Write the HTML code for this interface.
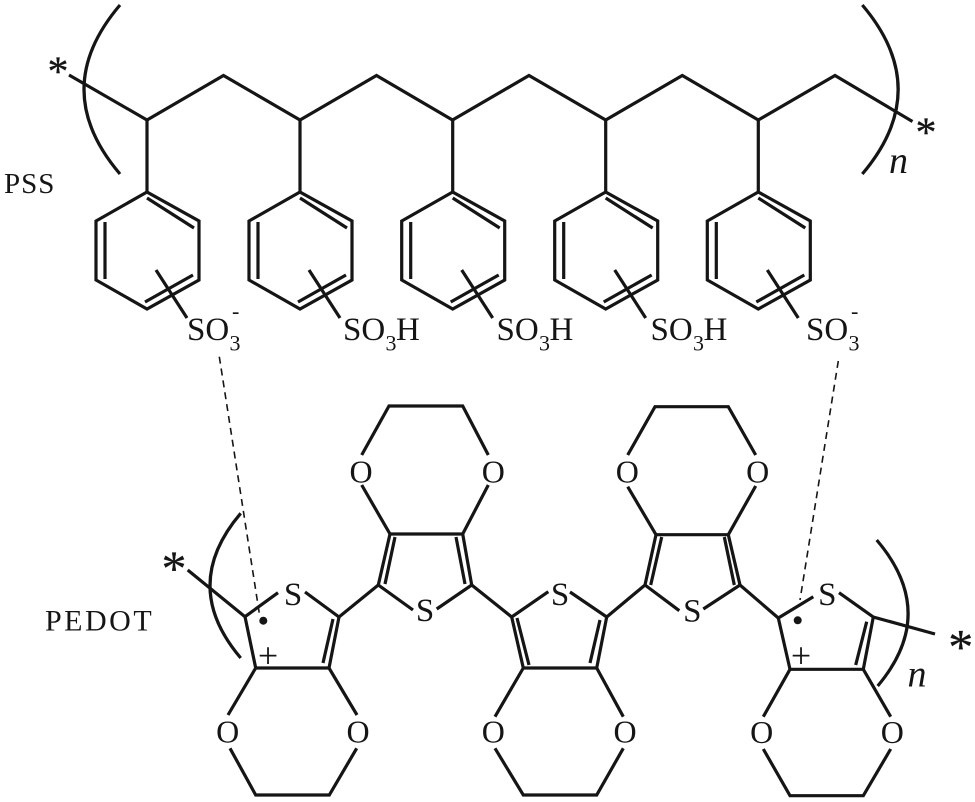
<!DOCTYPE html>
<html><head><meta charset="utf-8"><style>
html,body{margin:0;padding:0;background:#fff}
svg{display:block}
text{font-family:"Liberation Serif",serif;fill:#151515}
.l{fill:none;stroke:#151515;stroke-width:3.2;stroke-linejoin:miter;stroke-linecap:butt}
.m{font-size:32px;text-anchor:middle}
.s{font-size:33px;text-anchor:middle}
.so{font-size:33px}
.sub{font-size:22px}
.mn{font-size:22px}
.n{font-size:38px;font-style:italic;text-anchor:middle}
.st{font-size:42px;text-anchor:middle;stroke:#151515;stroke-width:.3}
.p{font-size:36px;text-anchor:middle}
</style></head><body>
<svg width="975" height="802" viewBox="0 0 975 802" xmlns="http://www.w3.org/2000/svg">
<defs>
<g id="r" class="l">
<path d="M147 120V192L199 221V280L147 309L96 280V221L147 192"/>
<path d="M147 198L194 228M105 222V279M145 302L193 275M156 270L187 318"/>
</g>
</defs>
<g class="l">
<path d="M69 75L147 120L223.500 75.500L300 120L376.500 75.500L452.500 120L529 75.500L605.700 120L682.300 75.500L758.300 120L835 75.500L912.500 121.500"/>
<path d="M120 5Q48 89.500 120 174"/>
<path d="M862.300 5Q934 89.500 862.300 174"/>
<path d="M240.700 513.300Q179.300 585.500 240.700 658"/>
<path d="M876.700 540Q939 613 877.700 686"/>
</g>
<use href="#r"/>
<use href="#r" x="153"/>
<use href="#r" x="305.700"/>
<use href="#r" x="458.700"/>
<use href="#r" x="611.300"/>
<g class="l">
<path d="M187.700 570L245 616.700L278 592.700M305 592L339 617L378.300 585L413 610M436.700 609L471.700 585L511.700 617L548.300 591.700M570 592L606.700 617L645 585L679.300 610.700M703.300 609L740 585L778.300 618L813.300 596.700M839 592.700L873.300 617L935 634"/>
<path d="M245 616.700L255.700 668H329L339 617M333 619L323 663"/>
<path d="M228 715L255.700 668M230 748.300L255.700 795H329.300L356.700 748.300M357 715L329 668"/>
<path d="M378.300 585L390 534H462.700L471.700 585M385 584L395 537M465 584L456 537"/>
<path d="M361.700 485L390 534M361.700 455L389 406H462.700L488.300 455M488.300 485L462.700 534"/>
<path d="M511.700 617L523.300 668H596.700L606.700 617M517 618L529 665M600 620L590 663"/>
<path d="M495 716.700L523.300 668M495 748.300L523.300 795H596.700L623.300 748.300M623.300 716.700L596.700 668"/>
<path d="M645 585L656 534.700H728.300L740 585M650.700 585L661.700 537M734.300 585L724.300 537"/>
<path d="M627.700 486.700L656 534.700M627.700 455L655 406.700H728.300L755.700 455M755.700 486L728.300 534.700"/>
<path d="M778.300 618L790 669.300H863.300L873.300 617M866.700 621.700L855.700 665"/>
<path d="M763.300 716.700L790 669.300M763.300 749L790 795.700H863.300L890.700 749M890.700 716.700L863.300 669.300"/>
</g>
<path d="M219.300 356.700L259.300 613.300M838.300 361L800 600" fill="none" stroke="#151515" stroke-width="1.600" stroke-dasharray="7 5"/>
<circle cx="263.300" cy="620.700" r="4" fill="#151515"/>
<circle cx="797.700" cy="620.300" r="4" fill="#151515"/>

<text x="4" y="193" font-size="29" letter-spacing="1">PSS</text>
<text x="45" y="630.500" font-size="30" letter-spacing="2.500">PEDOT</text>

<text class="so" x="187" y="340">SO</text><text class="sub" x="229.500" y="350.500">3</text><text class="mn" x="232" y="318.500">-</text>
<text class="so" x="343" y="340">SO</text><text class="sub" x="385.500" y="350.500">3</text><text class="so" x="396" y="340">H</text>
<text class="so" x="496.500" y="340">SO</text><text class="sub" x="539" y="350.500">3</text><text class="so" x="549.500" y="340">H</text>
<text class="so" x="650.500" y="340">SO</text><text class="sub" x="693" y="350.500">3</text><text class="so" x="703.500" y="340">H</text>
<text class="so" x="806" y="340">SO</text><text class="sub" x="848.500" y="350.500">3</text><text class="mn" x="851" y="318.500">-</text>

<text class="s" x="293" y="605">S</text>
<text class="s" x="425" y="621">S</text>
<text class="s" x="560" y="605">S</text>
<text class="s" x="692.300" y="621.500">S</text>
<text class="s" x="827.300" y="605">S</text>

<text class="m" x="361" y="482.500">O</text>
<text class="m" x="493.300" y="482.500">O</text>
<text class="m" x="627.300" y="482.500">O</text>
<text class="m" x="757.700" y="482.500">O</text>
<text class="m" x="227.700" y="742.500">O</text>
<text class="m" x="358" y="742.500">O</text>
<text class="m" x="493.300" y="742.500">O</text>
<text class="m" x="625" y="742.500">O</text>
<text class="m" x="761.700" y="743">O</text>
<text class="m" x="892.300" y="743">O</text>

<text class="p" x="268" y="667.500">+</text>
<text class="p" x="801" y="667.500">+</text>

<text class="st" x="58" y="85.500">*</text>
<text class="st" x="926" y="146.500">*</text>
<text class="st" style="font-size:50px" x="174" y="585">*</text>
<text class="st" style="font-size:50px" x="960.700" y="663.500">*</text>

<text class="n" x="898.500" y="173">n</text>
<text class="n" x="917" y="686.500">n</text>
</svg>
</body></html>
